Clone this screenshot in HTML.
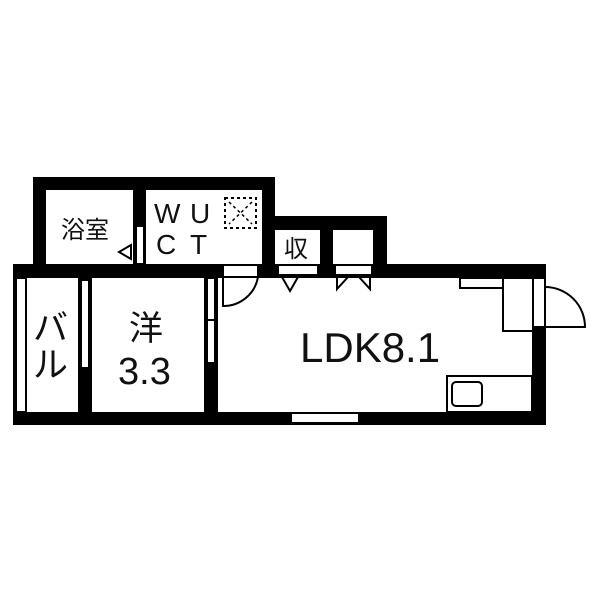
<!DOCTYPE html>
<html><head><meta charset="utf-8"><style>
body{margin:0;background:#fff;width:600px;height:600px;overflow:hidden}
svg text{font-family:"Liberation Sans","Noto Sans CJK JP",sans-serif;fill:#111}
</style></head><body>
<svg width="600" height="600" viewBox="0 0 600 600" xmlns="http://www.w3.org/2000/svg">
<g fill="#000">
<rect x="33" y="177" width="242" height="13"/>
<rect x="33" y="177" width="13" height="90"/>
<rect x="133" y="177" width="13" height="90"/>
<rect x="262" y="177" width="13" height="90"/>
<rect x="275" y="216" width="112" height="14"/>
<rect x="320" y="216" width="13" height="50"/>
<rect x="373" y="216" width="14" height="50"/>
<rect x="13" y="264" width="533" height="14"/>
<rect x="13" y="412" width="533" height="13"/>
<rect x="13" y="264" width="3" height="161"/>
<rect x="532" y="264" width="14" height="161"/>
<rect x="78" y="264" width="14" height="161"/>
<rect x="204" y="264" width="14" height="161"/>
</g>
<g fill="#fff" stroke="#000" stroke-width="2">
<rect x="136" y="226" width="8" height="38"/>
<rect x="16" y="278" width="10" height="134"/>
<rect x="81" y="280" width="8" height="88"/>
<rect x="207" y="278" width="8" height="85"/>
<line x1="207" y1="320" x2="215" y2="320"/>
<rect x="223" y="265" width="35" height="12"/>
<rect x="278" y="265" width="40" height="10"/>
<rect x="335" y="265" width="37" height="10"/>
<rect x="533" y="278" width="12" height="49"/>
<rect x="291" y="413" width="68" height="10"/>
<rect x="460" y="278" width="43" height="10"/>
<rect x="503" y="278" width="30" height="53"/>
<rect x="447" y="376" width="85" height="36"/>
<rect x="452" y="382" width="30" height="24" rx="4"/>
</g>
<g fill="none" stroke="#000" stroke-width="2">
<path d="M223 277 V306 A35 35 0 0 0 258 277"/>
<path d="M282 277 L290 291 L298 277"/>
<path d="M337 277 V289 L348 277 M370 277 V289 L359 277"/>
<path d="M131 245 L119 252 L131 259 Z"/>
<path d="M545 327 H585 A40 40 0 0 0 545 287"/>
<rect x="225" y="198" width="31" height="30" stroke-dasharray="3 3"/>
<path d="M229 202 L252 224 M252 202 L229 224" stroke-dasharray="3 3" stroke-width="1.5"/>
</g>
<text x="61" y="238" font-size="24">浴室</text>
<text x="154" y="223" font-size="28">W</text>
<text x="190" y="223" font-size="28">U</text>
<text x="156" y="254" font-size="28">C</text>
<text x="190" y="254" font-size="28">T</text>
<text x="284" y="257" font-size="24">収</text>
<text x="33" y="340" font-size="35">バ</text>
<text x="33" y="377" font-size="35">ル</text>
<text x="129" y="340" font-size="34">洋</text>
<text x="118" y="384" font-size="38">3.3</text>
<text x="300" y="362" font-size="42">LDK8.1</text>
</svg>
</body></html>
